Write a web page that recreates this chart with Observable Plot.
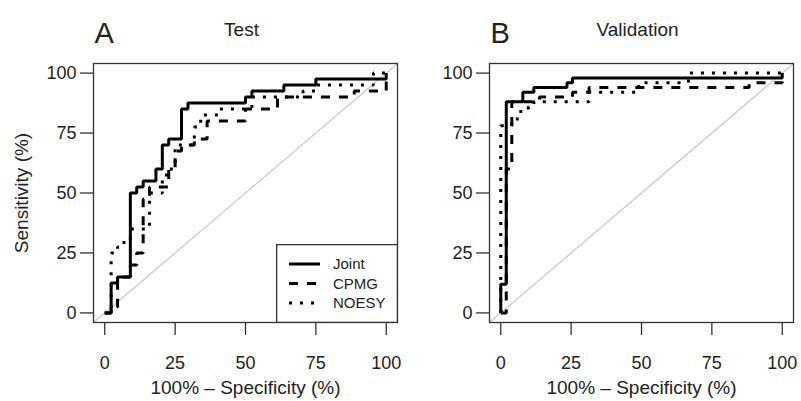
<!DOCTYPE html>
<html>
<head>
<meta charset="utf-8">
<script src="https://cdn.jsdelivr.net/npm/d3@7"></script>
<script src="https://cdn.jsdelivr.net/npm/@observablehq/plot@0.6"></script>
<style>
  html, body { margin: 0; padding: 0; background: #fff; }
  #wrap { position: relative; width: 801px; height: 401px; font-family: "Liberation Sans", Arial, sans-serif; color: #222; }
  .panel { position: absolute; top: 0; }
  #legend { position: absolute; left: 276px; top: 244px; }
</style>
</head>
<body>
<div id="wrap"></div>
<script>
// ---------- data (percent) ----------
// Panel A: Test set  (x = 100% - specificity, y = sensitivity) ; step corners
const testJointX = [0, 2.27, 4.55, 9.09, 11.36, 13.64, 18.18, 20.45, 22.73, 27.27, 29.55, 50, 52.27, 63.64, 75, 100];
const testJointY = [0, 12.5, 15, 50, 52.5, 55, 60, 70, 72.5, 85, 87.5, 90, 92.5, 95, 97.5, 100];

const testCpmgX = [0, 2.27, 4.55, 9.09, 11.36, 13.64, 15.91, 22.73, 25, 27.27, 31.82, 36.36, 50, 61.36, 88.64, 100];
const testCpmgY = [0, 2.5, 15, 20, 25, 47.5, 52.5, 60, 67.5, 70, 72.5, 80, 85, 90, 92.5, 100];

const testNoesyX = [0, 2.27, 4.55, 6.82, 9.09, 15.91, 20.45, 22.73, 25, 31.82, 34.09, 40.91, 52.27, 70.45, 75, 95.45, 100];
const testNoesyY = [0, 25, 27.5, 30, 35, 50, 57.5, 60, 70, 77.5, 82.5, 85, 90, 92.5, 95, 100, 100];

// Panel B: Validation set
const valJointX = [0, 0, 1.96, 7.84, 11.76, 23.53, 25.49, 100];
const valJointY = [0, 12, 88, 92, 94, 96, 98, 100];

const valCpmgX = [0, 1.96, 3.92, 13.73, 25.49, 31.37, 88.24, 100];
const valCpmgY = [0, 60, 88, 90, 92, 94, 96, 100];

const valNoesyX = [0, 0, 3.92, 5.88, 9.8, 11.76, 31.37, 49.02, 66.67, 100];
const valNoesyY = [0, 78, 80, 84, 86, 88, 92, 96, 100, 100];

// ticks & labels
const xTicks = [0, 25, 50, 75, 100];
const yTicks = [0, 25, 50, 75, 100];
const seriesNames = ["Joint", "CPMG", "NOESY"];
const panelLetters = ["A", "B"];
const panelTitles = ["Test", "Validation"];
const xAxisTitle = "100% \u2013 Specificity (%)";
const yAxisTitle = "Sensitivity (%)";

// ---------- drawing ----------
const FONT = "\"Liberation Sans\", Arial, sans-serif";
const pad = 4;
const domain = [-pad, 100 + pad];
const dash = { Joint: null, CPMG: "9,9", NOESY: "3,8" };

function rows(xs, ys) { return xs.map((x, i) => ({ x, y: ys[i] })); }

function panel({ letter, title, curves, showYLabel, width, marginLeft, marginRight }) {
  const order = ["NOESY", "CPMG", "Joint"];
  return Plot.plot({
    width, height: 401,
    marginLeft, marginRight, marginTop: 63, marginBottom: 79,
    x: { domain },
    y: { domain },
    style: { fontFamily: FONT, fontSize: "18px", color: "#222", background: "transparent", overflow: "visible" },
    marks: [
      Plot.line(domain.map(v => ({ x: v, y: v })), { x: "x", y: "y", stroke: "#c8c8c8", strokeWidth: 1.2 }),
      ...order.map(name => Plot.line(curves[name], {
        x: "x", y: "y", curve: "step-after",
        stroke: "#000", strokeWidth: 3,
        strokeDasharray: dash[name],
        strokeLinecap: "butt", strokeLinejoin: "miter"
      })),
      Plot.frame({ stroke: "#333", strokeWidth: 1.3 }),
      Plot.axisX({ ticks: xTicks, tickSize: 13, tickPadding: 21, label: null, fontSize: 18, strokeWidth: 1.2 }),
      Plot.axisY({ ticks: yTicks, tickSize: 13, tickPadding: 4, label: null, fontSize: 18, strokeWidth: 1.2 }),
      Plot.text([xAxisTitle], { text: d => d, frameAnchor: "bottom", lineAnchor: "middle", textAnchor: "middle", dy: 65, fontSize: 19 }),
      showYLabel ? Plot.text([yAxisTitle], { text: d => d, frameAnchor: "left", lineAnchor: "middle", textAnchor: "middle", rotate: -90, dx: -72, fontSize: 19 }) : null,
      Plot.text([title], { text: d => d, frameAnchor: "top", lineAnchor: "middle", textAnchor: "middle", dx: -4, dy: -34, fontSize: 19 }),
      Plot.text([letter], { text: d => d, frameAnchor: "top-left", lineAnchor: "middle", textAnchor: "start", dx: 1, dy: -30, fontSize: 29 })
    ]
  });
}

const wrap = document.getElementById("wrap");

const pA = panel({
  letter: panelLetters[0], title: panelTitles[0], showYLabel: true,
  width: 400, marginLeft: 93, marginRight: 3,
  curves: { Joint: rows(testJointX, testJointY), CPMG: rows(testCpmgX, testCpmgY), NOESY: rows(testNoesyX, testNoesyY) }
});
pA.classList.add("panel"); pA.style.left = "0px";
wrap.appendChild(pA);

const pB = panel({
  letter: panelLetters[1], title: panelTitles[1], showYLabel: false,
  width: 401, marginLeft: 89, marginRight: 8,
  curves: { Joint: rows(valJointX, valJointY), CPMG: rows(valCpmgX, valCpmgY), NOESY: rows(valNoesyX, valNoesyY) }
});
pB.classList.add("panel"); pB.style.left = "400px";
wrap.appendChild(pB);

// legend (panel A, bottom-right corner)
const lg = d3.select(wrap).append("svg").attr("id", "legend").attr("width", 122).attr("height", 79);
lg.append("rect").attr("x", 0.65).attr("y", 0.65).attr("width", 120.7).attr("height", 77.7)
  .attr("fill", "#fff").attr("stroke", "#333").attr("stroke-width", 1.3);
seriesNames.forEach((name, i) => {
  const y = 20 + i * 19.5;
  lg.append("line").attr("x1", 13).attr("x2", 44).attr("y1", y).attr("y2", y)
    .attr("stroke", "#000").attr("stroke-width", 3)
    .attr("stroke-dasharray", dash[name]);
  lg.append("text").attr("x", 57).attr("y", y).attr("dy", "0.35em")
    .attr("font-family", FONT).attr("font-size", 15).attr("fill", "#222").text(name);
});
</script>
</body>
</html>
